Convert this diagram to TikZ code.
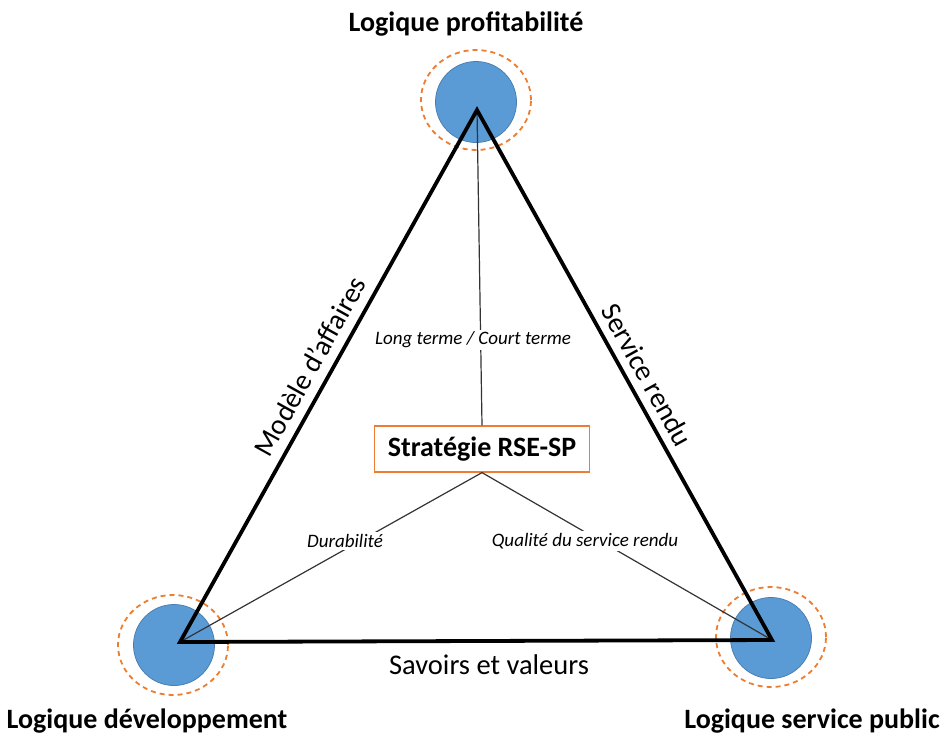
\documentclass[tikz,border=0pt]{standalone}
\usepackage{fontspec}
\setmainfont{Carlito}
\usetikzlibrary{shapes.geometric}
\definecolor{cblue}{HTML}{5B9BD5}
\definecolor{cblueline}{HTML}{4A7EB0}
\definecolor{corange}{HTML}{ED7D31}
\begin{document}
\begin{tikzpicture}[x=1pt,y=-1pt,
  pole/.style={circle,fill=cblue,draw=cblueline,line width=0.8pt,minimum size=81pt,inner sep=0pt},
  halo/.style={ellipse,draw=corange,dashed,dash pattern=on 5pt off 4pt,line width=1.8pt,minimum width=110pt,minimum height=100pt,inner sep=0pt},
  title/.style={font=\bfseries\fontsize{28}{32}\selectfont},
  side/.style={font=\fontsize{28.5}{32}\selectfont},
  axis/.style={font=\itshape\fontsize{19}{22}\selectfont,fill=white,inner sep=2pt},
  thin/.style={line width=1.2pt,draw=black!80},
  thick/.style={line width=3.8pt,line join=miter}]
\useasboundingbox (0,0) rectangle (941,737);
% poles
\node[pole] (pt) at (476,102) {};
\node[halo] (ht) at (476,100) {};
\node[pole] (pl) at (174,645) {};
\node[halo] (hl) at (173,645) {};
\node[pole] (pr) at (771,638) {};
\node[halo] (hr) at (771,637) {};
% vertices
\coordinate (A) at (477,110);
\coordinate (B) at (180,642);
\coordinate (C) at (772,640);
% centre box
\node[draw=corange,line width=1.2pt,fill=white,minimum width=215pt,minimum height=46pt,inner sep=0pt,font=\bfseries\fontsize{28}{32}\selectfont] (box) at (482,449) {Stratégie RSE-SP};
% inner lines
\draw[thin] (A) -- (box.north);
\draw[thin] (box.south) -- (B);
\draw[thin] (box.south) -- (C);
% axis labels
\node[axis] (lt) at (473,340) {Long terme / Court terme};
\node[axis] (du) at (345,541) {Durabilité};
\node[axis] (qs) at (585,541) {Qualité du service rendu};
% triangle
\draw[thick] (A) -- (B) -- (C) -- cycle;
% side labels
\node[side,rotate=60.9] (ma) at (310,366) {Modèle d'affaires};
\node[side,rotate=-61] (sr) at (647,375) {Service rendu};
\node[side] (sv) at (489,665) {Savoirs et valeurs};
% titles
\node[title] (t1) at (466,24) {Logique profitabilité};
\node[title] (t2) at (147,721) {Logique développement};
\node[title] (t3) at (812,721) {Logique service public};
\end{tikzpicture}
\end{document}
